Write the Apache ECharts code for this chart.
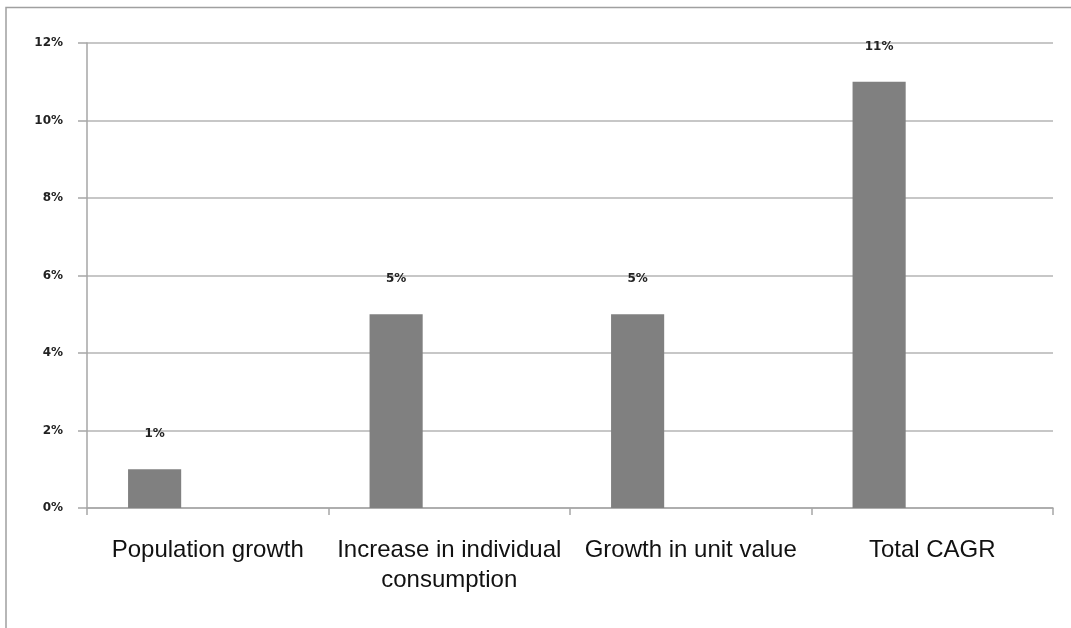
<!DOCTYPE html>
<html>
<head>
<meta charset="utf-8">
<script src="https://cdn.jsdelivr.net/npm/echarts@6/dist/echarts.min.js"></script>
<style>
html,body{margin:0;padding:0;background:#fff;}
#chart{width:1071px;height:628px;}
</style>
</head>
<body>
<div id="chart"></div>
<script>
var categories = ['Population growth', 'Increase in individual\nconsumption', 'Growth in unit value', 'Total CAGR'];
var cagrValues = [1, 5, 5, 11];
var yTicks = [0, 2, 4, 6, 8, 10, 12];

var chart = echarts.init(document.getElementById('chart'));
var option = {
  animation: false,
  backgroundColor: '#ffffff',
  graphic: [{
    type: 'rect',
    shape: { x: 6, y: 7.5, width: 1200, height: 800 },
    style: { fill: 'none', stroke: '#a0a0a0', lineWidth: 1.5 },
    z: 100
  }],
  grid: { left: 87, right: 18, top: 43, bottom: 120, containLabel: false },
  xAxis: {
    type: 'category',
    data: categories,
    axisLine: { lineStyle: { color: '#a6a6a6', width: 1.5 } },
    axisTick: { show: true, length: 7, lineStyle: { color: '#a6a6a6', width: 1.5 } },
    axisLabel: {
      interval: 0,
      margin: 27,
      fontFamily: 'Liberation Sans, Arial, sans-serif',
      fontSize: 24,
      lineHeight: 30,
      color: '#111'
    },
    splitLine: { show: false }
  },
  yAxis: {
    type: 'value',
    min: 0,
    max: 12,
    interval: 2,
    axisLine: { show: true, lineStyle: { color: '#a6a6a6', width: 1.5 } },
    axisTick: { show: true, length: 9, lineStyle: { color: '#a6a6a6', width: 1.5 } },
    axisLabel: {
      margin: 24,
      fontFamily: 'DejaVu Sans, sans-serif',
      fontSize: 12,
      fontWeight: 'bold',
      color: '#222',
      formatter: function (v) { return v + '%'; }
    },
    splitLine: { show: true, lineStyle: { color: '#b4b4b4', width: 1.5 } }
  },
  series: [
    {
      type: 'bar',
      data: cagrValues,
      barGap: '0%',
      barCategoryGap: '34%',
      itemStyle: { color: '#808080' },
      label: {
        show: true,
        position: 'top',
        distance: 29,
        fontFamily: 'DejaVu Sans, sans-serif',
        fontSize: 12,
        fontWeight: 'bold',
        color: '#222',
        formatter: function (p) { return p.value + '%'; }
      }
    },
    { type: 'bar', data: ['-', '-', '-', '-'], barGap: '0%', barCategoryGap: '34%' },
    { type: 'bar', data: ['-', '-', '-', '-'], barGap: '0%', barCategoryGap: '34%' }
  ]
};
chart.setOption(option);
</script>
</body>
</html>
